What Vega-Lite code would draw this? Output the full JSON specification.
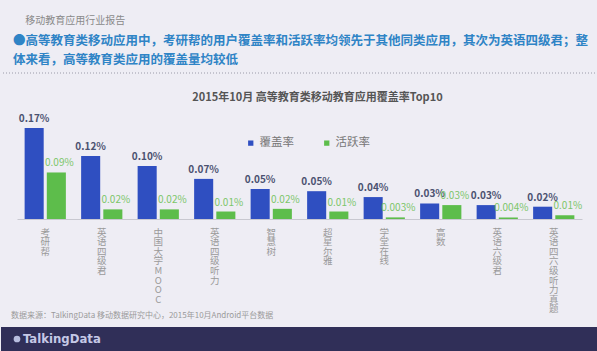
{
  "$schema": "https://vega.github.io/schema/vega-lite/v6.json",
  "background": "#eeedf4",
  "padding": 0,
  "autosize": {"type": "pad"},
  "bounds": "flush",
  "spacing": 0,
  "config": {"view": {"stroke": null}, "font": "Noto Sans CJK SC"},
  "vconcat": [
    {
      "width": 597,
      "height": 73,
      "data": {"values": [{"k": 0}]},
      "title": {
        "text": "\u200b\u3000 移动教育应用行业报告",
        "subtitle": ["●高等教育类移动应用中，考研帮的用户覆盖率和活跃率均领先于其他同类应用，其次为英语四级君；整", "\u00a0\u3000体来看，高等教育类应用的覆盖量均较低"],
        "anchor": "start",
        "frame": "group",
        "orient": "top",
        "dx": 12,
        "offset": -66,
        "fontSize": 10,
        "fontWeight": "normal",
        "color": "#8a8a8a",
        "subtitleFontSize": 12.5,
        "subtitleFontWeight": "bold",
        "subtitleColor": "#2f84c6",
        "subtitleLineHeight": 19,
        "subtitlePadding": 9
      },
      "mark": {"type": "rule", "strokeDash": [1, 2], "color": "#9a9aa8", "strokeWidth": 1},
      "encoding": {"y": {"datum": 0, "type": "quantitative", "scale": {"domain": [0, 1]}, "axis": null}}
    },
    {
      "width": 597,
      "height": 146,
      "data": {
        "values": [
          {"app": "考研帮", "series": "覆盖率", "value": 0.170, "label": "0.17%"},
          {"app": "考研帮", "series": "活跃率", "value": 0.087, "label": "0.09%"},
          {"app": "英语四级君", "series": "覆盖率", "value": 0.118, "label": "0.12%"},
          {"app": "英语四级君", "series": "活跃率", "value": 0.018, "label": "0.02%"},
          {"app": "中国大学MOOC", "series": "覆盖率", "value": 0.099, "label": "0.10%"},
          {"app": "中国大学MOOC", "series": "活跃率", "value": 0.018, "label": "0.02%"},
          {"app": "英语四级听力", "series": "覆盖率", "value": 0.075, "label": "0.07%"},
          {"app": "英语四级听力", "series": "活跃率", "value": 0.014, "label": "0.01%"},
          {"app": "智慧树", "series": "覆盖率", "value": 0.056, "label": "0.05%"},
          {"app": "智慧树", "series": "活跃率", "value": 0.019, "label": "0.02%"},
          {"app": "超星尔雅", "series": "覆盖率", "value": 0.052, "label": "0.05%"},
          {"app": "超星尔雅", "series": "活跃率", "value": 0.014, "label": "0.01%"},
          {"app": "学堂在线", "series": "覆盖率", "value": 0.041, "label": "0.04%"},
          {"app": "学堂在线", "series": "活跃率", "value": 0.003, "label": "0.003%"},
          {"app": "高数", "series": "覆盖率", "value": 0.029, "label": "0.03%"},
          {"app": "高数", "series": "活跃率", "value": 0.026, "label": "0.03%"},
          {"app": "英语六级君", "series": "覆盖率", "value": 0.026, "label": "0.03%"},
          {"app": "英语六级君", "series": "活跃率", "value": 0.003, "label": "0.004%"},
          {"app": "英语四六级听力真题", "series": "覆盖率", "value": 0.023, "label": "0.02%"},
          {"app": "英语四六级听力真题", "series": "活跃率", "value": 0.007, "label": "0.01%"}
        ]
      },
      "title": {
        "text": "2015年10月  高等教育类移动教育应用覆盖率Top10",
        "anchor": "middle",
        "frame": "group",
        "dx": 18,
        "offset": -30,
        "fontSize": 11,
        "fontWeight": "bold",
        "color": "#555555"
      },
      "encoding": {
        "x": {
          "field": "app",
          "type": "nominal",
          "sort": null,
          "scale": {"range": [16, 581], "paddingInner": 0.27, "paddingOuter": 0.135},
          "axis": {
            "title": null,
            "domainColor": "#c8c8d0",
            "ticks": false,
            "labelAngle": 0,
            "labelExpr": "split(datum.label, '')",
            "labelFontSize": 9.5,
            "labelLineHeight": 9.6,
            "labelColor": "#9a9a9a",
            "labelPadding": 8,
            "labelBaseline": "top",
            "labelAlign": "center",
            "labelOverlap": false
          }
        },
        "xOffset": {"field": "series", "type": "nominal", "sort": ["覆盖率", "活跃率"], "scale": {"paddingInner": 0.14}},
        "y": {"field": "value", "type": "quantitative", "scale": {"domain": [0, 0.273]}, "axis": null}
      },
      "layer": [
        {
          "mark": {"type": "bar"},
          "encoding": {
            "color": {
              "field": "series",
              "type": "nominal",
              "sort": ["覆盖率", "活跃率"],
              "scale": {"domain": ["覆盖率", "活跃率"], "range": ["#2f4fc1", "#5dbd4b"]},
              "legend": {
                "orient": "none",
                "legendX": 244,
                "legendY": 137,
                "direction": "horizontal",
                "title": null,
                "symbolType": "square",
                "symbolSize": 28,
                "symbolStrokeWidth": 0,
                "labelFontSize": 11.5,
                "labelColor": "#777777",
                "columnPadding": 27,
                "labelOffset": 3
              }
            }
          }
        },
        {
          "transform": [{"filter": "datum.series === '覆盖率'"}],
          "mark": {"type": "text", "baseline": "bottom", "dy": -4, "fontSize": 10, "fontWeight": "bold", "color": "#4b5270"},
          "encoding": {"text": {"field": "label"}}
        },
        {
          "transform": [{"filter": "datum.series === '活跃率'"}],
          "mark": {"type": "text", "baseline": "bottom", "dy": -4, "dx": 3, "fontSize": 10, "color": "#7cc66a"},
          "encoding": {"text": {"field": "label"}}
        }
      ]
    },
    {
      "width": 597,
      "height": 108,
      "data": {"values": [{"t": "数据来源：TalkingData 移动数据研究中心，2015年10月Android平台数据"}]},
      "mark": {"type": "text", "align": "left", "baseline": "middle", "fontSize": 8, "color": "#9a9a9a", "dx": 10, "dy": -11},
      "encoding": {
        "x": {"datum": 0, "type": "quantitative", "scale": {"domain": [0, 1]}, "axis": null},
        "y": {"datum": 0, "type": "quantitative", "scale": {"domain": [0, 1]}, "axis": null},
        "text": {"field": "t"}
      }
    },
    {
      "width": 597,
      "height": 24,
      "view": {"fill": "#302f58", "stroke": null},
      "data": {"values": [{"t": "TalkingData"}]},
      "encoding": {
        "x": {"datum": 0, "type": "quantitative", "scale": {"domain": [0, 1]}, "axis": null},
        "y": {"datum": 0.5, "type": "quantitative", "scale": {"domain": [0, 1]}, "axis": null}
      },
      "layer": [
        {
          "mark": {"type": "point", "filled": true, "shape": "circle", "size": 45, "color": "#b8bedf", "opacity": 1, "xOffset": 16}
        },
        {
          "mark": {"type": "text", "align": "left", "baseline": "middle", "dx": 22, "fontSize": 13, "fontWeight": "bold", "font": "DejaVu Sans Condensed", "color": "#c5c8e6"},
          "encoding": {"text": {"field": "t"}}
        }
      ]
    }
  ]
}
